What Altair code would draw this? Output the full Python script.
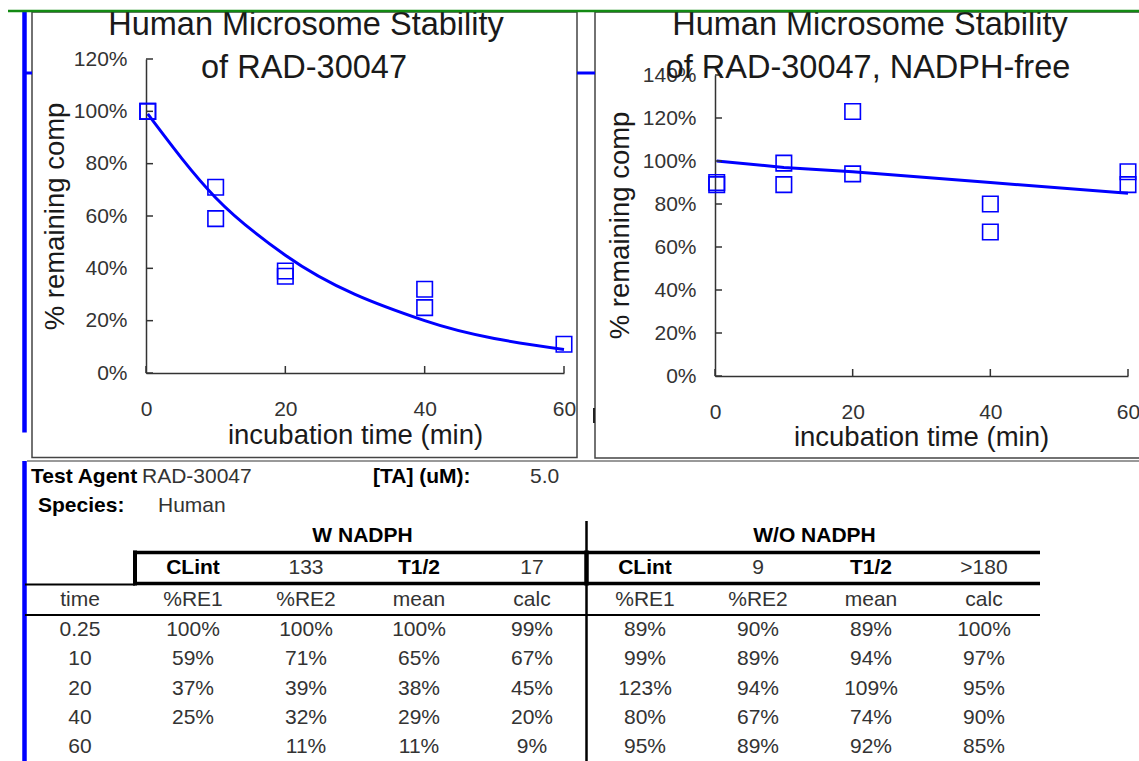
import altair as alt
import pandas as pd

W, H = 1139, 761
FONT = "Liberation Sans"
BLUE = "#0000FF"
INK = "#1a1a1a"
GREY = "#333333"

# ---------------- data ----------------
TIME = [0.25, 10, 20, 40, 60]
TIME_LABELS = ["0.25", "10", "20", "40", "60"]
# with NADPH
W_RE1 = [100, 59, 37, 25, None]
W_RE2 = [100, 71, 39, 32, 11]
W_MEAN = [100, 65, 38, 29, 11]
W_CALC = [99, 67, 45, 20, 9]
W_CLINT, W_T12 = "133", "17"
# without NADPH
WO_RE1 = [89, 99, 123, 80, 95]
WO_RE2 = [90, 89, 94, 67, 89]
WO_MEAN = [89, 94, 109, 74, 92]
WO_CALC = [100, 97, 95, 90, 85]
WO_CLINT, WO_T12 = "9", ">180"

X_TICKS = [0, 20, 40, 60]
Y1_TICKS = [0, 20, 40, 60, 80, 100, 120]
Y2_TICKS = [0, 20, 40, 60, 80, 100, 120, 140]
TABLE_HEAD = ["time", "%RE1", "%RE2", "mean", "calc", "%RE1", "%RE2", "mean", "calc"]
TITLE1 = ["Human Microsome Stability", "of RAD-30047"]
TITLE2 = ["Human Microsome Stability", "of RAD-30047, NADPH-free"]
X_TITLE = "incubation time (min)"
Y_TITLE = "% remaining comp"

dummy = pd.DataFrame({"a": [0]})


def txt(s, x, y, size, bold=False, align="center", color=INK):
    return alt.Chart(dummy).mark_text(
        text=s, font=FONT, fontSize=size, fontWeight="bold" if bold else "normal",
        align=align, baseline="middle", color=color
    ).encode(x=alt.value(x), y=alt.value(y))


def hline(x1, x2, y, color="#000000", w=2.0):
    return alt.Chart(dummy).mark_rule(color=color, strokeWidth=w).encode(
        x=alt.value(x1), x2=alt.value(x2), y=alt.value(y))


def vline(x, y1, y2, color="#000000", w=2.0):
    return alt.Chart(dummy).mark_rule(color=color, strokeWidth=w).encode(
        x=alt.value(x), y=alt.value(y1), y2=alt.value(y2))


def frame(x1, x2, y1, y2):
    return alt.Chart(dummy).mark_rect(fillOpacity=0, stroke="#444444", strokeWidth=1.5).encode(
        x=alt.value(x1), x2=alt.value(x2), y=alt.value(y1), y2=alt.value(y2))


def panel(re1, re2, calc, xs, ys, yticks, ax_x, ax_y, xt_pos, yt_pos, interp):
    pts = pd.DataFrame([{"t": t, "v": v} for arr in (re1, re2)
                        for t, v in zip(TIME, arr) if v is not None])
    fit = pd.DataFrame({"t": TIME, "v": calc})
    xaxis = alt.Axis(
        orient="bottom", offset=ax_y - H, values=X_TICKS, tickSize=0, labelPadding=25,
        labelFlush=False, labelFont=FONT, labelFontSize=21, labelColor=GREY,
        domainColor=GREY, domainWidth=1.5, grid=False,
        title=X_TITLE, titleFont=FONT, titleFontSize=27.5, titleFontWeight="normal",
        titleColor=INK, titleX=xt_pos[0], titleY=xt_pos[1] - ax_y,
        titleBaseline="middle", titleAlign="center")
    yaxis = alt.Axis(
        orient="left", offset=-ax_x, values=yticks, tickSize=0, labelPadding=19,
        labelFlush=False, labelExpr="datum.value + '%'", labelFont=FONT,
        labelFontSize=21, labelColor=GREY, domainColor=GREY, domainWidth=1.5, grid=False,
        title=Y_TITLE, titleFont=FONT, titleFontSize=27.5, titleFontWeight="normal",
        titleColor=INK, titleX=yt_pos[0] - ax_x, titleY=yt_pos[1],
        titleBaseline="middle", titleAlign="center")
    points = alt.Chart(pts).mark_point(
        shape="square", filled=False, size=240, strokeWidth=1.6, color=BLUE, opacity=1
    ).encode(x=alt.X("t:Q", scale=xs, axis=xaxis), y=alt.Y("v:Q", scale=ys, axis=yaxis))
    curve = alt.Chart(fit).mark_line(color=BLUE, strokeWidth=3, interpolate=interp).encode(
        x=alt.X("t:Q", scale=xs, axis=None), y=alt.Y("v:Q", scale=ys, axis=None))
    ytk = alt.Chart(pd.DataFrame({"v": yticks})).mark_rule(color=GREY, strokeWidth=1.5).encode(
        y=alt.Y("v:Q", scale=ys, axis=None), x=alt.value(ax_x), x2=alt.value(ax_x + 7))
    xtk = alt.Chart(pd.DataFrame({"t": X_TICKS})).mark_rule(color=GREY, strokeWidth=1.5).encode(
        x=alt.X("t:Q", scale=xs, axis=None), y=alt.value(ax_y), y2=alt.value(ax_y - 7))
    return [curve, points, ytk, xtk]


xs1 = alt.Scale(domain=[0, 60], range=[146, 564], nice=False, zero=False)
ys1 = alt.Scale(domain=[0, 120], range=[373, 59], nice=False, zero=False)
xs2 = alt.Scale(domain=[0, 60], range=[715, 1128], nice=False, zero=False)
ys2 = alt.Scale(domain=[0, 140], range=[376, 75], nice=False, zero=False)

layers = []
# chart frames and decorations
layers += [frame(32, 577, 12, 457.5), frame(595, 1160, 12, 458)]
layers += [hline(27, 1139, 461, color="#777777", w=1.5)]
layers += [vline(24.5, 12, 432.5, color=BLUE, w=4.5), vline(24.5, 461, 761, color=BLUE, w=4.5)]
layers += [hline(26, 32, 73, color=BLUE, w=3), hline(577, 595, 73, color=BLUE, w=3)]
layers += [vline(594, 408, 423, color="#222222", w=2)]

# the two charts
layers += panel(W_RE1, W_RE2, W_CALC, xs1, ys1, Y1_TICKS, 146, 373, (355, 435), (55, 216), "monotone")
layers += panel(WO_RE1, WO_RE2, WO_CALC, xs2, ys2, Y2_TICKS, 715, 376, (921, 437), (620, 225), "linear")

# chart titles
layers += [txt(TITLE1[0], 306, 25, 32.5), txt(TITLE1[1], 304, 68, 32.5)]
layers += [txt(TITLE2[0], 870, 25, 32.5), txt(TITLE2[1], 868, 68, 32.5)]

# ---------------- table ----------------
TS = 21
layers += [
    txt("Test Agent", 31, 477, TS, bold=True, align="left", color="#000000"),
    txt("RAD-30047", 142, 477, TS, align="left", color=GREY),
    txt("[TA] (uM):", 373, 477, TS, bold=True, align="left", color="#000000"),
    txt("5.0", 530, 477, TS, align="left", color=GREY),
    txt("Species:", 38, 506, TS, bold=True, align="left", color="#000000"),
    txt("Human", 158, 506, TS, align="left", color=GREY),
]

col_scale = alt.Scale(domain=[0, 8], range=[80, 984], nice=False, zero=False)
head_scale = alt.Scale(type="point", domain=["group", "clint", "head"], range=[536, 600], padding=0)
body_scale = alt.Scale(type="point", domain=TIME_LABELS, range=[630, 747], padding=0)

head_bold = pd.DataFrame([
    {"row": "group", "col": 2.5, "txt": "W NADPH"},
    {"row": "group", "col": 6.5, "txt": "W/O NADPH"},
    {"row": "clint", "col": 1, "txt": "CLint"},
    {"row": "clint", "col": 3, "txt": "T1/2"},
    {"row": "clint", "col": 5, "txt": "CLint"},
    {"row": "clint", "col": 7, "txt": "T1/2"},
])
head_reg = pd.DataFrame(
    [{"row": "clint", "col": c, "txt": s} for c, s in
     [(2, W_CLINT), (4, W_T12), (6, WO_CLINT), (8, WO_T12)]]
    + [{"row": "head", "col": i, "txt": s} for i, s in enumerate(TABLE_HEAD)]
)
body_rows = []
for i, lab in enumerate(TIME_LABELS):
    body_rows.append({"row": lab, "col": 0, "txt": lab})
    for j, arr in enumerate([W_RE1, W_RE2, W_MEAN, W_CALC, WO_RE1, WO_RE2, WO_MEAN, WO_CALC]):
        if arr[i] is not None:
            body_rows.append({"row": lab, "col": j + 1, "txt": f"{arr[i]}%"})
body = pd.DataFrame(body_rows)


def table_text(df, yscale, bold, color):
    return alt.Chart(df).mark_text(
        font=FONT, fontSize=TS, fontWeight="bold" if bold else "normal",
        align="center", baseline="middle", color=color
    ).encode(
        x=alt.X("col:Q", scale=col_scale, axis=None),
        y=alt.Y("row:N", scale=yscale, axis=None),
        text="txt:N",
    )


layers += [
    table_text(head_bold, head_scale, True, "#000000"),
    table_text(head_reg, head_scale, False, GREY),
    table_text(body, body_scale, False, GREY),
]

# table rules
layers += [
    hline(25, 135, 584.5, w=2),
    hline(25, 1040, 615, w=2),
    vline(586.5, 521, 761, w=2.5),
    hline(133, 1040, 552.5, w=3.5),
    hline(133, 1040, 583.5, w=3.5),
    vline(135, 550.5, 585.5, w=4),
    vline(586.5, 550.5, 585.5, w=4.5),
]

# top green line
layers += [hline(8, 1139, 11, color="#138a13", w=2.5)]

chart = (
    alt.layer(*layers)
    .resolve_scale(x="independent", y="independent")
    .resolve_axis(x="independent", y="independent")
    .properties(width=W, height=H, padding=0, background="white",
                autosize=alt.AutoSizeParams(type="none"))
    .configure_view(stroke=None)
)

chart.save("out.html", embed_options={"renderer": "svg", "actions": False})
